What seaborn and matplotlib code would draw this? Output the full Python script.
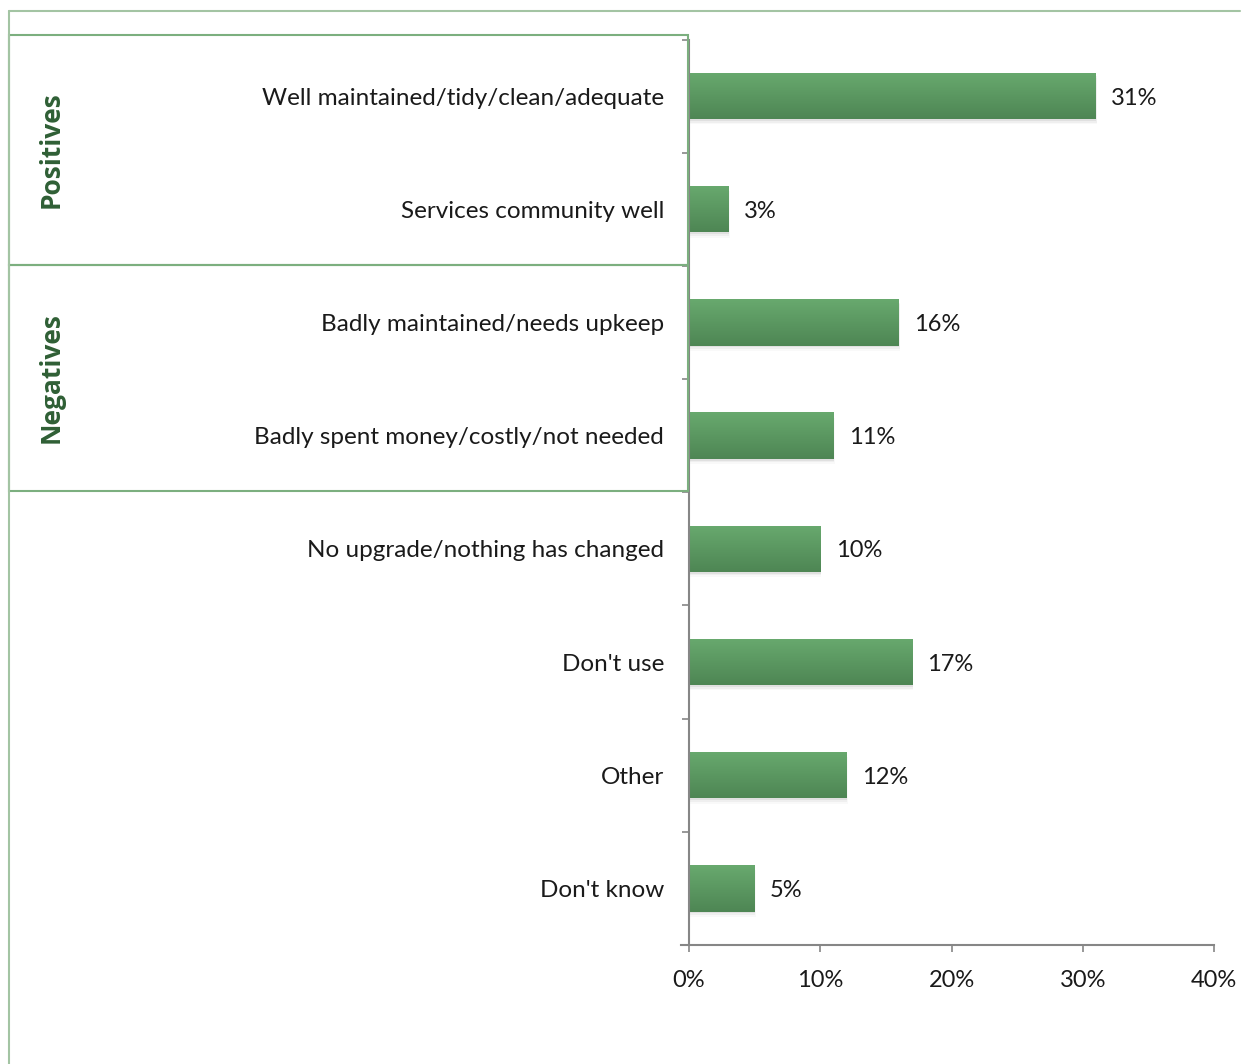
import numpy as np
import matplotlib
matplotlib.use("Agg")
import matplotlib.pyplot as plt
from matplotlib.patches import Rectangle
from matplotlib.lines import Line2D
from matplotlib.colors import LinearSegmentedColormap
from matplotlib.ticker import FixedLocator, PercentFormatter
import seaborn as sns

categories = [
    "Well maintained/tidy/clean/adequate",
    "Services community well",
    "Badly maintained/needs upkeep",
    "Badly spent money/costly/not needed",
    "No upgrade/nothing has changed",
    "Don't use",
    "Other",
    "Don't know",
]
values = [31, 3, 16, 11, 10, 17, 12, 5]
x_ticks = [0, 10, 20, 30, 40]
groups = ["Positives", "Negatives"]

sns.set_theme(style="white")
plt.rcParams["font.family"] = ["Lato", "DejaVu Sans"]

W, H = 1242, 1064
fig = plt.figure(figsize=(W / 100, H / 100), dpi=100)
ax = fig.add_axes([689 / W, 1 - 945 / H, (1214 - 689) / W, (945 - 39.5) / H])

sns.barplot(x=values, y=categories, orient="h", width=0.41, ax=ax,
            color="#5c9a62", saturation=1)

# vertical gradient fill for each bar, plus a soft drop shadow
grad_cmap = LinearSegmentedColormap.from_list("bar", ["#68a96e", "#4e8654"])
grad = np.linspace(0, 1, 64).reshape(-1, 1)
for p in list(ax.patches):
    x0, y0 = p.get_x(), p.get_y()
    w, h = p.get_width(), p.get_height()
    for k, a in enumerate([0.06, 0.04, 0.025]):
        shadow = Rectangle((x0 + 0.03 * (k + 1), y0 + 0.015 * (k + 1)), w, h,
                           facecolor="#000000", alpha=a, edgecolor="none",
                           zorder=1)
        ax.add_patch(shadow)
    p.set_facecolor("none")
    p.set_edgecolor("none")
    p.set_zorder(3)
    im = ax.imshow(grad, cmap=grad_cmap, extent=[x0, x0 + w, y0 + h, y0],
                   aspect="auto", zorder=2, interpolation="bicubic")
    im.set_clip_path(p)

ax.set_xlim(0, 40)
ax.set_ylim(len(categories) - 0.5, -0.5)

for c in ax.containers:
    texts = ax.bar_label(c, labels=[f"{v}%" for v in values], padding=11,
                         fontsize=17, color="#1a1a1a")
    for t in texts:
        t.set_y(-1.5)

ax.xaxis.set_major_locator(FixedLocator(x_ticks))
ax.xaxis.set_major_formatter(PercentFormatter(decimals=0))
ax.tick_params(axis="x", length=5, width=1.2, color="#868686", pad=13,
               labelsize=17, labelcolor="#1a1a1a", bottom=True, direction="out")
ax.tick_params(axis="y", which="major", length=0, pad=18,
               labelsize=17.5, labelcolor="#1a1a1a")
ax.yaxis.set_minor_locator(FixedLocator(np.arange(-0.5, len(categories), 1)))
ax.tick_params(axis="y", which="minor", length=5, width=1.2, color="#868686",
               left=True, direction="out")
ax.set_xlabel("")
ax.set_ylabel("")

for side in ["top", "right"]:
    ax.spines[side].set_visible(False)
for side in ["left", "bottom"]:
    ax.spines[side].set_color("#868686")
    ax.spines[side].set_linewidth(1.5)
ax.spines["bottom"].set_bounds(-0.6, 40)

# outer frame lines
frame_color = "#a3c4a3"
fig.add_artist(Line2D([9 / W, 1240 / W], [1 - 11 / H, 1 - 11 / H],
                      color=frame_color, lw=1.5, transform=fig.transFigure))
fig.add_artist(Line2D([9 / W, 9 / W], [1 - 11 / H, 0], color=frame_color,
                      lw=1.5, transform=fig.transFigure))

# group boxes with rotated labels
box_color = "#7caf7f"
for name, (top, bot) in zip(groups, [(35, 265), (265, 491)]):
    fig.add_artist(Rectangle((9 / W, 1 - bot / H), (688 - 9) / W, (bot - top) / H,
                             transform=fig.transFigure, fill=False,
                             edgecolor=box_color, lw=1.5))
    fig.text(51 / W, 1 - (top + bot) / 2 / H, name, rotation=90,
             ha="center", va="center", fontsize=19, fontweight="bold",
             family=["Open Sans", "DejaVu Sans"], color="#2f5f35")

fig.savefig("out.png", dpi=100, facecolor="white")
